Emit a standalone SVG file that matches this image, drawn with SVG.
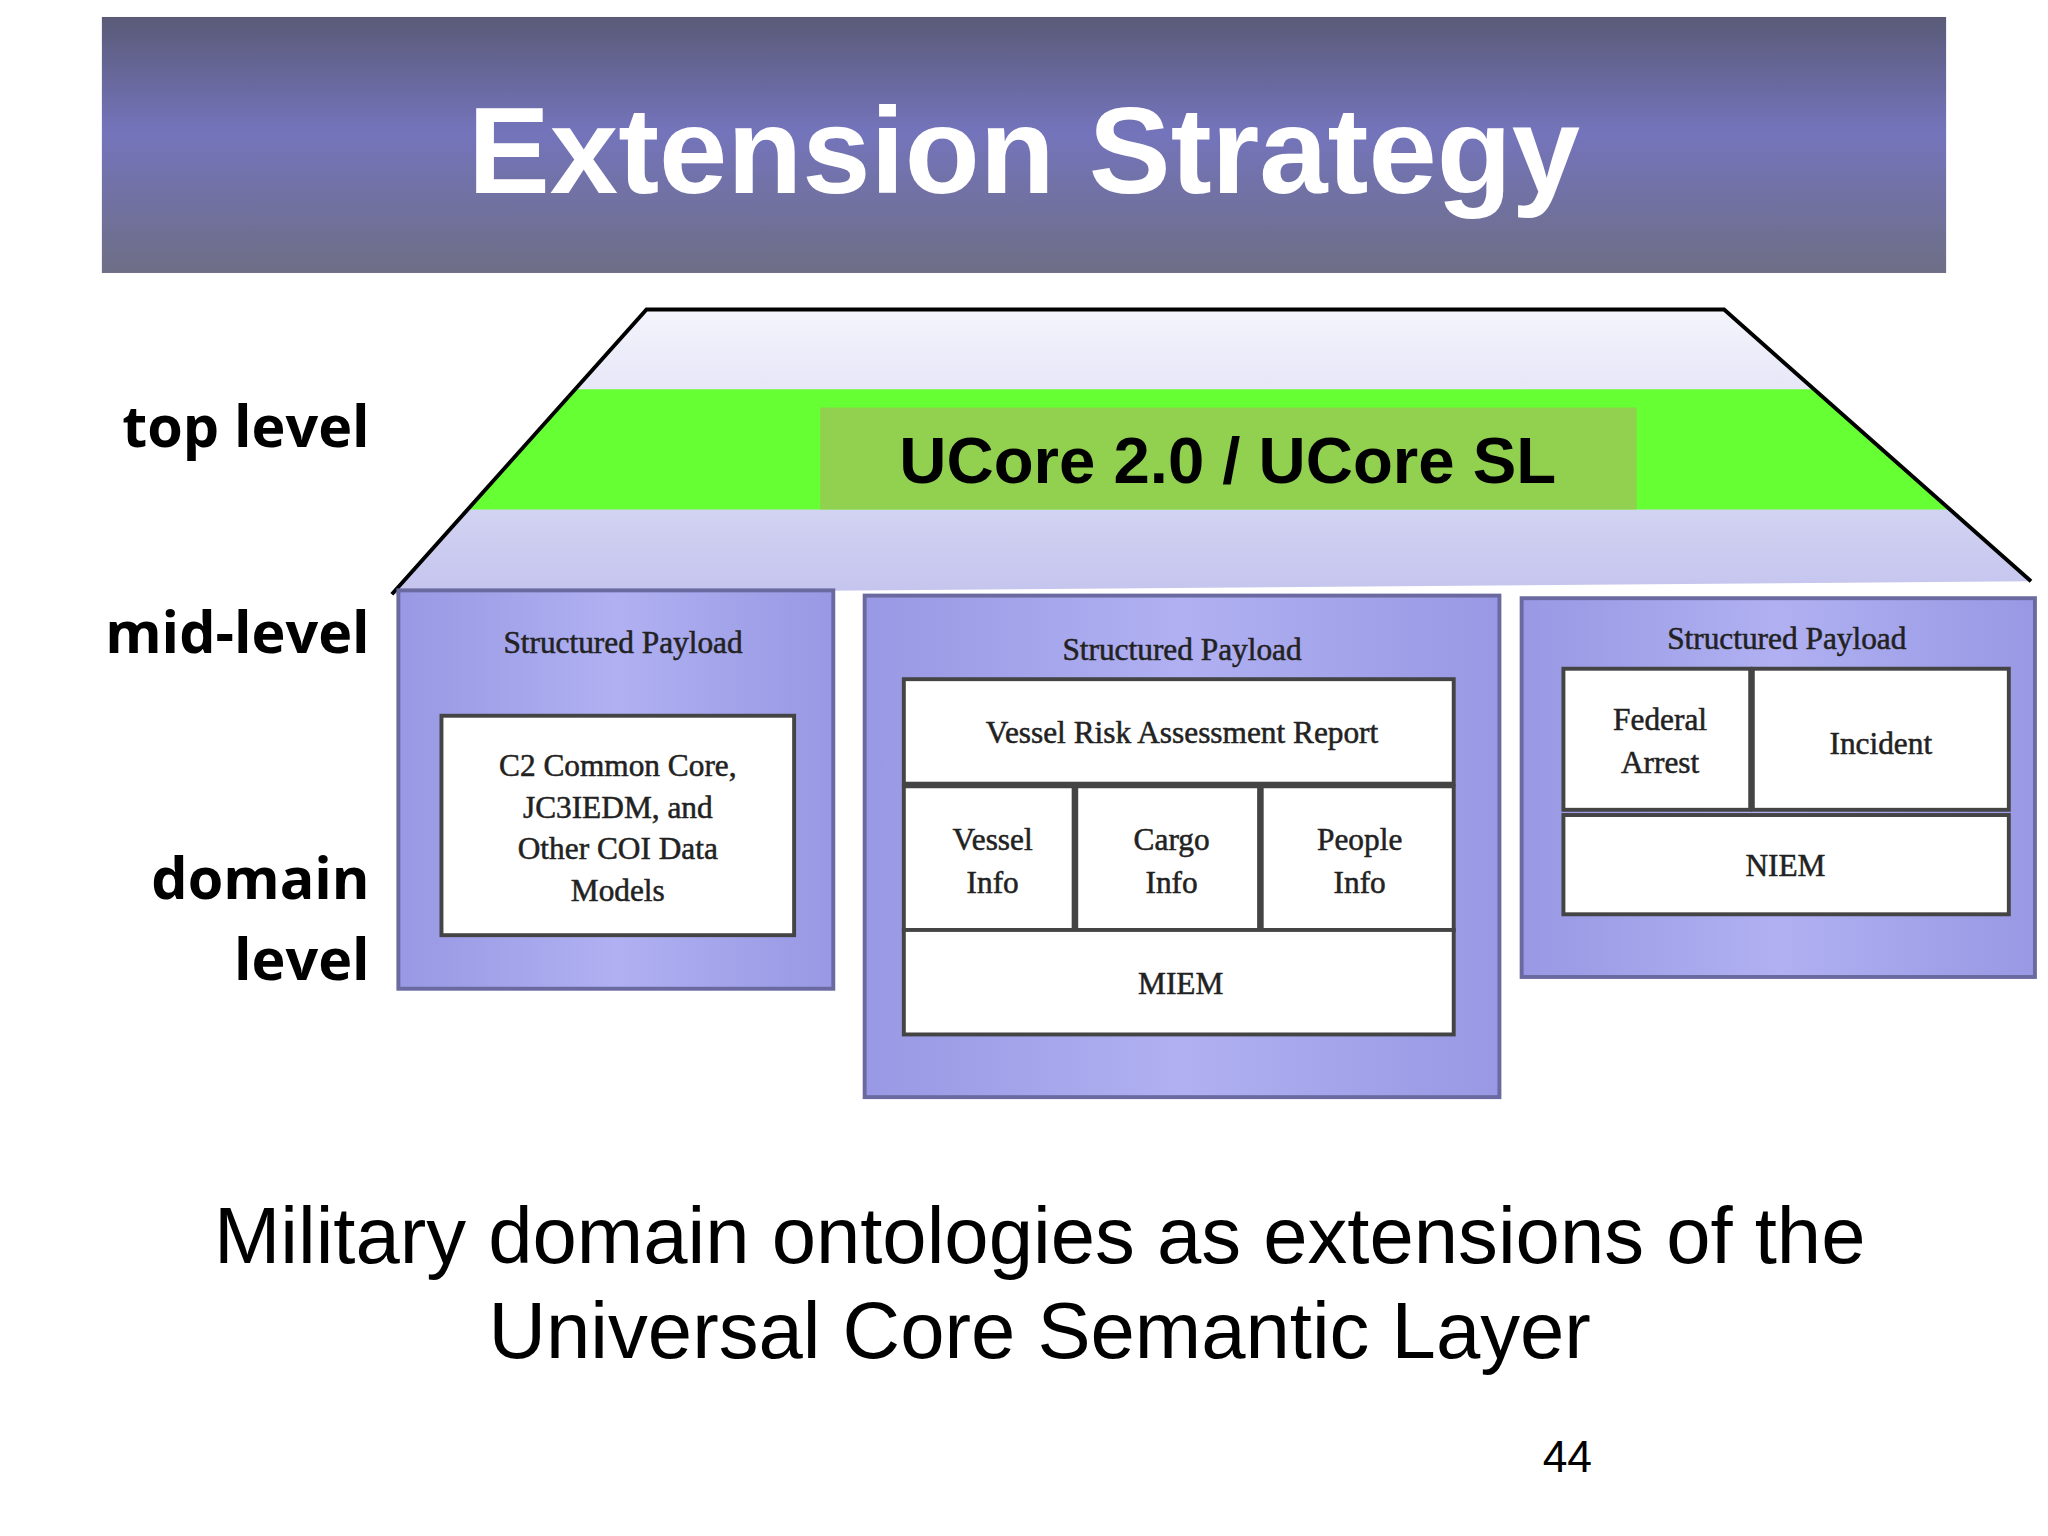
<svg xmlns="http://www.w3.org/2000/svg" width="2048" height="1536" viewBox="0 0 2048 1536">
<defs>
<linearGradient id="tb" x1="0" y1="0" x2="0" y2="1"><stop offset="0" stop-color="#5a5a78"/><stop offset="0.45" stop-color="#7474bc"/><stop offset="1" stop-color="#6e6e86"/></linearGradient>
<linearGradient id="tr" x1="0" y1="0" x2="0" y2="1"><stop offset="0" stop-color="#f4f4fc"/><stop offset="1" stop-color="#c4c4ee"/></linearGradient>
<linearGradient id="pn" x1="0" y1="0" x2="1" y2="0"><stop offset="0" stop-color="#9898e4"/><stop offset="0.5" stop-color="#b0b0f2"/><stop offset="1" stop-color="#9898e4"/></linearGradient>
<style>
.lbl{font-family:"Open Sans","DejaVu Sans",sans-serif;font-weight:bold;font-size:44px;fill:#000;text-anchor:end}
.ser{font-family:"Liberation Serif",serif;font-size:24px;fill:#222;text-anchor:middle;stroke:#222;stroke-width:0.4}
.panel{fill:url(#pn);stroke:#6a6aa0;stroke-width:3}
.box{fill:#fff;stroke:#444;stroke-width:3}
.cap{font-family:"Liberation Sans",Arial,sans-serif;font-size:61px;fill:#000;text-anchor:middle}
</style>
</defs>
<g transform="scale(1.30612)">
<rect width="1568" height="1176" fill="#fff"/>
<g id="title"><rect x="78" y="13" width="1412" height="196" fill="url(#tb)"/>
<text x="784" y="148" font-family="Liberation Sans,Arial,sans-serif" font-weight="bold" font-size="94" fill="#fff" text-anchor="middle">Extension Strategy</text></g>
<g id="top">
<polygon points="495,237 1320,237 1555,445 300,455" fill="url(#tr)"/>
<polygon points="440,298 1389,298 1493,390 358,390" fill="#66ff33"/>
<polyline points="300,455 495,237 1320,237 1555,445" fill="none" stroke="#000" stroke-width="3"/>
<rect x="628" y="312" width="625" height="78" fill="#92d050"/>
<text x="940" y="370" font-family="Liberation Sans,Arial,sans-serif" font-weight="bold" font-size="50" fill="#000" text-anchor="middle">UCore 2.0 / UCore SL</text>
</g>
<g id="labels">
<text class="lbl" x="283" y="342">top level</text>
<text class="lbl" x="283" y="500">mid-level</text>
<text class="lbl" x="283" y="688">domain</text>
<text class="lbl" x="283" y="750">level</text>
</g>
<g id="p1"><rect class="panel" x="305" y="452" width="333" height="305"/>
<text class="ser" x="477" y="500">Structured Payload</text>
<rect class="box" x="338" y="548" width="270" height="168"/>
<text class="ser" x="473" y="594">C2 Common Core,</text>
<text class="ser" x="473" y="626">JC3IEDM, and</text>
<text class="ser" x="473" y="658">Other COI Data</text>
<text class="ser" x="473" y="690">Models</text></g>
<g id="p2"><rect class="panel" x="662" y="456" width="486" height="384"/>
<text class="ser" x="905" y="505">Structured Payload</text>
<rect class="box" x="692" y="520" width="421" height="80"/>
<text class="ser" x="905" y="569">Vessel Risk Assessment Report</text>
<rect class="box" x="692" y="602" width="130" height="110"/>
<text class="ser" x="760" y="651">Vessel</text><text class="ser" x="760" y="684">Info</text>
<rect class="box" x="824" y="602" width="140" height="110"/>
<text class="ser" x="897" y="651">Cargo</text><text class="ser" x="897" y="684">Info</text>
<rect class="box" x="966" y="602" width="147" height="110"/>
<text class="ser" x="1041" y="651">People</text><text class="ser" x="1041" y="684">Info</text>
<rect class="box" x="692" y="712" width="421" height="80"/>
<text class="ser" x="904" y="761">MIEM</text></g>
<g id="p3"><rect class="panel" x="1165" y="458" width="393" height="290"/>
<text class="ser" x="1368" y="497">Structured Payload</text>
<rect class="box" x="1197" y="512" width="143" height="108"/>
<text class="ser" x="1271" y="559">Federal</text><text class="ser" x="1271" y="592">Arrest</text>
<rect class="box" x="1342" y="512" width="196" height="108"/>
<text class="ser" x="1440" y="577">Incident</text>
<rect class="box" x="1197" y="624" width="341" height="76"/>
<text class="ser" x="1367" y="671">NIEM</text></g>
<g id="caption">
<text class="cap" x="796" y="967">Military domain ontologies as extensions of the</text>
<text class="cap" x="796" y="1040">Universal Core Semantic Layer</text>
<text x="1200" y="1127" font-family="Liberation Sans,Arial,sans-serif" font-size="34" text-anchor="middle">44</text>
</g>
<g id="connectors"></g>
</g>
</svg>
